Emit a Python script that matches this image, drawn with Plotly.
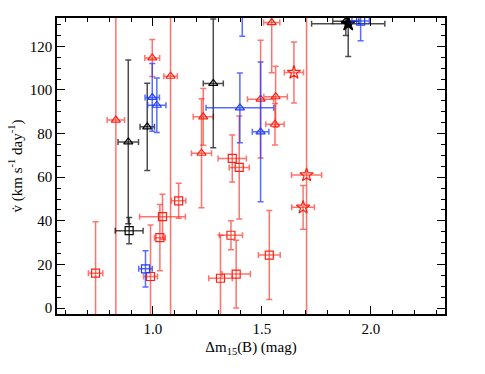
import plotly.graph_objects as go

# Red triangles
rt_x = [0.830, 0.997, 1.081, 1.231, 1.223, 1.494, 1.545, 1.563, 1.560]
rt_y = [86.2, 114.7, 106.3, 87.7, 71.0, 95.8, 130.9, 96.9, 84.3]
rt_xe = [0.040, 0.034, 0.031, 0.046, 0.046, 0.060, 0.037, 0.054, 0.042]
rt_ye = [300, 8.5, 300, 13, 25, 27, 23, 14, 9.5]

# Red stars
rs_x = [1.647, 1.705, 1.689]
rs_y = [108.0, 61.0, 46.2]
rs_xe = [0.044, 0.069, 0.052]
rs_ye = [14, 300, 10]

# Red squares
rq_x = [0.737, 0.989, 1.032, 1.044, 1.118, 1.310, 1.358, 1.364, 1.382, 1.396, 1.534]
rq_y = [16.0, 14.5, 32.3, 41.9, 49.2, 13.7, 33.4, 68.6, 15.6, 64.5, 24.3]
rq_xe = [0.033, 0.032, 0.025, 0.105, 0.033, 0.054, 0.053, 0.065, 0.065, 0.046, 0.050]
rq_ye = [23.6, 23.6, 15.2, 10.3, 8.0, 19.7, 6.7, 10.8, 15.5, 23.6, 20.4]

# Black triangles
kt_x = [0.887, 0.974, 1.277, 1.885]
kt_y = [76.2, 83.1, 103.0, 131.5]
kt_xe = [0.047, 0.033, 0.046, 0.06]
kt_ye = [37.5, 20, 29.5, 6.5]

# Black squares
kq_x = [0.891]
kq_y = [35.5]
kq_xe = [0.064]
kq_ye = [6.0]

# Black star
ks_x = [1.896]
ks_y = [130.4]
ks_xe = [0.168]
ks_ye = [15]

# Blue triangles
bt_x = [0.997, 1.018, 1.399, 1.494, 1.41]
bt_y = [96.6, 93.0, 91.8, 80.8, 142.0]
bt_xe = [0.033, 0.042, 0.155, 0.038, 0.04]
bt_ye = [15.5, 12.5, 16, 32, 17.4]

# Blue squares
bq_x = [0.966, 1.953]
bq_y = [18.0, 131.6]
bq_xe = [0.031, 0.04]
bq_ye = [8.3, 9.0]

RED = "#ff2010"
RED_E = "rgba(255,40,30,0.65)"
BLUE = "#1f3cff"
BLUE_E = "rgba(30,60,255,0.75)"
BLACK = "#000000"
BLACK_E = "rgba(0,0,0,0.7)"

fig = go.Figure()

def add(x, y, xe, ye, symbol, color, ecolor, size=8, lw=1.2):
    fig.add_trace(go.Scatter(
        x=x, y=y, mode="markers",
        marker=dict(symbol=symbol, size=size, color=color,
                    line=dict(color=color, width=lw)),
        error_x=dict(type="data", array=xe, symmetric=True, color=ecolor,
                     thickness=1.5, width=3),
        error_y=dict(type="data", array=ye, symmetric=True, color=ecolor,
                     thickness=1.5, width=3),
        showlegend=False,
    ))

add(rq_x, rq_y, rq_xe, rq_ye, "square-open", RED, RED_E, 8)
add(rt_x, rt_y, rt_xe, rt_ye, "triangle-up-open", RED, RED_E, 8)
add(rs_x, rs_y, rs_xe, rs_ye, "star-open", RED, RED_E, 10)
add(kt_x, kt_y, kt_xe, kt_ye, "triangle-up-open", BLACK, BLACK_E, 8)
add(kq_x, kq_y, kq_xe, kq_ye, "square-open", BLACK, BLACK_E, 8)
add(ks_x, ks_y, ks_xe, ks_ye, "star", BLACK, BLACK_E, 11)
add(bt_x, bt_y, bt_xe, bt_ye, "triangle-up-open", BLUE, BLUE_E, 8)
add(bq_x, bq_y, bq_xe, bq_ye, "square-open", BLUE, BLUE_E, 8)

font = dict(family="Liberation Serif", size=15, color="black")

fig.update_layout(
    width=485, height=374,
    margin=dict(l=57, r=40, t=18, b=60),
    paper_bgcolor="white", plot_bgcolor="white",
    font=font,
    xaxis=dict(
        range=[0.56, 2.34], tickvals=[1.0, 1.5, 2.0], ticktext=["1.0", "1.5", "2.0"],
        ticks="inside", ticklen=8, tickwidth=1.2, tickcolor="black",
        minor=dict(dtick=0.1, tick0=0, ticks="inside", ticklen=4, tickcolor="black", tickwidth=1),
        showline=True, linecolor="black", linewidth=1.5, mirror="allticks",
        showgrid=False, zeroline=False, automargin=False,
        tickfont=font,
        title=dict(text="Δm<sub>15</sub>(B) (mag)", font=font, standoff=6),
    ),
    yaxis=dict(
        range=[-2.7, 133], tickvals=[0, 20, 40, 60, 80, 100, 120],
        ticks="inside", ticklen=8, tickwidth=1.2, tickcolor="black",
        minor=dict(dtick=5, tick0=0, ticks="inside", ticklen=4, tickcolor="black", tickwidth=1),
        showline=True, linecolor="black", linewidth=1.5, mirror="allticks",
        showgrid=False, zeroline=False, automargin=False,
        tickfont=font,
        title=dict(text="v\u0307 (km s<sup>-1</sup> day<sup>-1</sup>)", font=font, standoff=4),
    ),
)

fig.write_html("out.html", config={"displayModeBar": False},
               post_script="document.body.style.margin='0';document.body.style.padding='0';")
